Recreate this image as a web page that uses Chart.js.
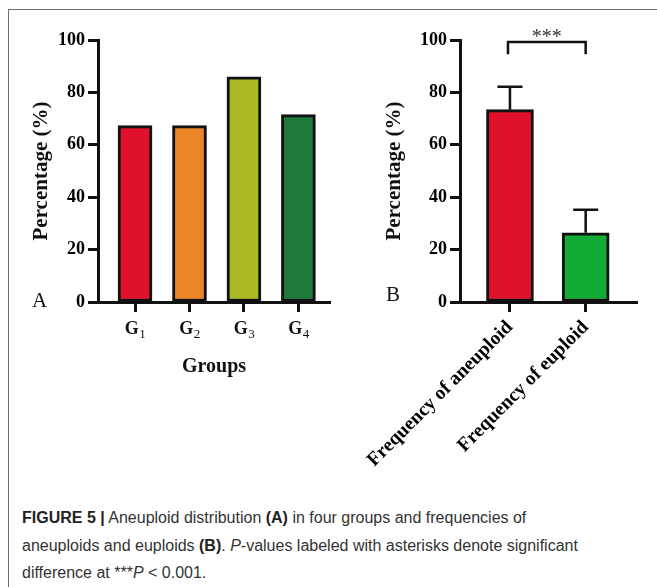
<!DOCTYPE html>
<html>
<head>
<meta charset="utf-8">
<script src="https://cdn.jsdelivr.net/npm/chart.js@4.4.1/dist/chart.umd.min.js"></script>
<style>
  body { margin: 0; width: 657px; height: 587px; background: #fff; position: relative; overflow: hidden; }
  #frame { position: absolute; left: 8px; top: 9px; width: 700px; height: 700px; border-left: 1.5px solid #6f6f6f; border-top: 1.5px solid #6f6f6f; }
  #wrapA { position: absolute; left: 0; top: 0; width: 340px; height: 400px; }
  #wrapB { position: absolute; left: 340px; top: 0; width: 317px; height: 480px; }
  .panel { position: absolute; font-family: "Liberation Serif", serif; font-size: 21px; color: #111; line-height: 1; }
  #caption { position: absolute; left: 22px; top: 504px; font-family: "Liberation Sans", Arial, sans-serif; font-size: 16px; line-height: 27.5px; color: #333; white-space: nowrap; }
  #caption b { color: #222; }
</style>
</head>
<body>
<div id="frame"></div>
<div id="wrapA"><canvas id="chartA" width="340" height="400"></canvas></div>
<div id="wrapB"><canvas id="chartB" width="317" height="480"></canvas></div>
<div class="panel" style="left:32px;top:290px">A</div>
<div class="panel" style="left:386px;top:284px">B</div>
<div id="caption">
  <b>FIGURE 5 |</b> Aneuploid distribution <b>(A)</b> in four groups and frequencies of<br>
  aneuploids and euploids <b>(B)</b>. <i>P</i>-values labeled with asterisks denote significant<br>
  difference at ***<i>P</i> &lt; 0.001.
</div>

<script>
// panel A
const groupNames = ['G', 'G', 'G', 'G'];
const groupSubs = ['1', '2', '3', '4'];
const groupValues = [67.3, 67.3, 85.9, 71.5];
const groupColors = ['#e0112b', '#ec8428', '#aabb25', '#1e7a3a'];

// panel B
const freqLabels = ['Frequency of aneuploid', 'Frequency of euploid'];
const freqValues = [73.4, 26.4];
const freqErrors = [8.8, 8.8];
const freqColors = ['#e0112b', '#12ab35'];

const yTicks = [0, 20, 40, 60, 80, 100];
const sigText = '***';
const sigLevel = 99.2;   // bracket top (%)
const sigDrop = 4.6;     // leg length (%)

const serif = '"Liberation Serif", "Times New Roman", serif';
Chart.defaults.color = '#000';
Chart.defaults.font.family = serif;

const tickFont = { size: 18, weight: 'bold' };
const titleFont = { size: 21, weight: 'bold' };

function yScale(width, titlePad) {
  return {
    min: 0, max: 100,
    afterBuildTicks: (s) => { s.ticks = yTicks.map(v => ({ value: v })); },
    afterFit: (s) => { s.width = width; s.paddingTop = 0; s.paddingBottom = 0; },
    ticks: { font: tickFont, padding: 3, color: '#000' },
    grid: { drawOnChartArea: false, drawTicks: true, tickLength: 10, tickWidth: 3, tickColor: '#111' },
    border: { display: true, width: 3, color: '#111' },
    title: { display: true, text: 'Percentage (%)', font: titleFont, color: '#111', padding: { top: titlePad, bottom: 0 } }
  };
}

function xScale(count, min, max, height, ticks, extra) {
  return Object.assign({
    type: 'linear',
    min: min, max: max,
    offset: false,
    afterBuildTicks: (s) => { s.ticks = Array.from({ length: count }, (_, i) => ({ value: i + 1 })); },
    // fixed height, and no extra side padding from long rotated labels
    afterFit: (s) => { s.height = height; s.paddingLeft = 0; s.paddingRight = 0; },
    ticks: ticks,
    grid: { offset: false, drawOnChartArea: false, drawTicks: true, tickLength: 10, tickWidth: 3, tickColor: '#111' },
    border: { display: true, width: 3, color: '#111' }
  }, extra);
}

// G labels with real subscripts, placed on the x scale ticks
const subLabels = {
  id: 'subLabels',
  afterDraw(chart) {
    const { ctx, scales: { x } } = chart;
    ctx.save();
    ctx.fillStyle = '#111';
    ctx.textAlign = 'left';
    ctx.textBaseline = 'alphabetic';
    const base = x.top + 31.5;
    groupNames.forEach((name, i) => {
      const px = x.getPixelForValue(i + 1);
      ctx.font = 'bold 18px ' + serif;
      const w1 = ctx.measureText(name).width;
      ctx.font = '13px ' + serif;
      const w2 = ctx.measureText(groupSubs[i]).width;
      const x0 = px - (w1 + w2) / 2;
      ctx.font = 'bold 18px ' + serif;
      ctx.fillText(name, x0, base);
      ctx.font = '13px ' + serif;
      ctx.fillText(groupSubs[i], x0 + w1 + 0.5, base + 4);
    });
    ctx.restore();
  }
};

// bar A
new Chart(document.getElementById('chartA'), {
  type: 'bar',
  data: {
    datasets: [{
      data: groupValues.map((v, i) => ({ x: i + 1, y: v })),
      backgroundColor: groupColors,
      borderColor: '#111',
      borderWidth: 3,
      borderSkipped: false,
      barThickness: 34
    }]
  },
  options: {
    responsive: false,
    animation: false,
    devicePixelRatio: 1,
    layout: { padding: { top: 40, right: 10, left: 0, bottom: 0 }, autoPadding: false },
    plugins: { legend: { display: false }, tooltip: { enabled: false } },
    scales: {
      x: xScale(groupNames.length, 0.32, 4.58, 98, { display: false }, {
        title: { display: true, text: 'Groups', font: { size: 20, weight: 'bold' }, color: '#111', padding: { top: 0, bottom: 21 } }
      }),
      y: yScale(98, 29)
    }
  },
  plugins: [subLabels]
});

// error bars + significance bracket for B
const extras = {
  id: 'extras',
  beforeDatasetsDraw(chart) {
    const { ctx, scales: { y } } = chart;
    const bars = chart.getDatasetMeta(0).data;
    ctx.save();
    ctx.strokeStyle = '#111';
    ctx.lineWidth = 2.5;
    bars.forEach((bar, i) => {
      const top = y.getPixelForValue(freqValues[i] + freqErrors[i]);
      const base = y.getPixelForValue(freqValues[i]);
      ctx.beginPath();
      ctx.moveTo(bar.x, base);
      ctx.lineTo(bar.x, top);
      ctx.moveTo(bar.x - 12.5, top);
      ctx.lineTo(bar.x + 12.5, top);
      ctx.stroke();
    });
    ctx.restore();
  },
  afterDatasetsDraw(chart) {
    const { ctx, scales: { y } } = chart;
    const bars = chart.getDatasetMeta(0).data;
    const x1 = bars[0].x - 2, x2 = bars[1].x;
    const yt = y.getPixelForValue(sigLevel);
    const yb = y.getPixelForValue(sigLevel - sigDrop);
    ctx.save();
    ctx.strokeStyle = '#111';
    ctx.lineWidth = 2.5;
    ctx.beginPath();
    ctx.moveTo(x1, yb);
    ctx.lineTo(x1, yt);
    ctx.lineTo(x2, yt);
    ctx.lineTo(x2, yb);
    ctx.stroke();
    ctx.fillStyle = '#333';
    ctx.font = '20px ' + serif;
    ctx.textAlign = 'center';
    ctx.textBaseline = 'alphabetic';
    ctx.fillText(sigText, (x1 + x2) / 2, yt + 1);
    ctx.restore();
  }
};

// bar B
new Chart(document.getElementById('chartB'), {
  type: 'bar',
  data: {
    datasets: [{
      data: freqValues.map((v, i) => ({ x: i + 1, y: v })),
      backgroundColor: freqColors,
      borderColor: '#111',
      borderWidth: 3,
      borderSkipped: false,
      barThickness: 47
    }]
  },
  options: {
    responsive: false,
    animation: false,
    devicePixelRatio: 1,
    layout: { padding: { top: 40, right: 20, left: 0, bottom: 0 }, autoPadding: false },
    plugins: { legend: { display: false }, tooltip: { enabled: false } },
    scales: {
      x: xScale(freqLabels.length, 0.34, 2.678, 178, {
        font: { size: 19.5, weight: 'bold' }, color: '#000', padding: 4,
        minRotation: 45, maxRotation: 45,
        callback: (v, i) => freqLabels[i]
      }, {}),
      y: yScale(120, 42)
    }
  },
  plugins: [extras]
});
</script>
</body>
</html>
